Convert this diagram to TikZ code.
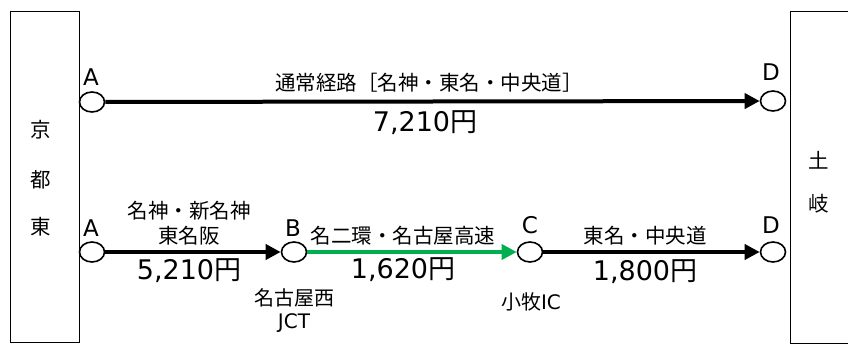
\documentclass[tikz,border=0pt]{standalone}
\usepackage{fontspec}
\setmainfont{Noto Sans CJK JP}
\newfontfamily\lat{DejaVu Sans}
\usetikzlibrary{arrows.meta,shapes.geometric}
\definecolor{rgreen}{RGB}{0,176,80}
\tikzset{
  pt/.style={draw,ellipse,line width=1.6pt,fill=white,minimum width=25pt,minimum height=20pt,inner sep=0pt},
  road/.style={line width=4pt,-{Triangle[length=15pt,width=15pt]}},
  city/.style={draw,line width=1.4pt},
  lbl/.style={font=\fontsize{23}{25}\lat,inner sep=0pt},
  txt/.style={font=\fontsize{20.5}{22}\selectfont,inner sep=0pt},
  price/.style={font=\fontsize{27}{29}\selectfont,inner sep=0pt},
  small/.style={font=\fontsize{20}{22}\selectfont,inner sep=0pt}
}
\begin{document}
\begin{tikzpicture}[x=1pt,y=-1pt]
\useasboundingbox (0,0) rectangle (848,345);
\node[city,minimum width=69pt,minimum height=331pt,anchor=north west,inner sep=0pt] (kyoto) at (10,11) {};
\node[city,minimum width=70pt,minimum height=332pt,anchor=north west,inner sep=0pt] (toki) at (790,11) {};
\node[txt] (k1) at (41,130) {京};
\node[txt] (k2) at (41,180) {都};
\node[txt] (k3) at (41,227) {東};
\node[txt] (t1) at (819,160) {土};
\node[txt] (t2) at (819,204) {岐};
% top row
\node[pt] (A1) at (92,102) {};
\node[pt] (D1) at (773,101) {};
\draw[road] (A1) -- (D1);
\node[lbl] (la1) at (91,77) {A};
\node[lbl] (ld1) at (771,72) {D};
\node[txt] (r1) at (429,83) {通常経路［名神・東名・中央道］};
\node[price] (p1) at (425,123) {{\lat 7,210}円};
% bottom row
\node[pt] (A2) at (92,252) {};
\node[pt] (B2) at (294,252) {};
\node[pt] (C2) at (530,252) {};
\node[pt] (D2) at (773,252) {};
\draw[road] (A2) -- (B2);
\draw[road,rgreen] (B2) -- (C2);
\draw[road] (C2) -- (D2);
\node[lbl] (la2) at (91,228) {A};
\node[lbl] (lb2) at (293,228) {B};
\node[lbl] (lc2) at (530,225) {C};
\node[lbl] (ld2) at (771,225) {D};
\node[txt] (r2a) at (189,211) {名神・新名神};
\node[txt] (r2b) at (189,236) {東名阪};
\node[price] (p2) at (189,271) {{\lat 5,210}円};
\node[txt] (r3) at (403,236) {名二環・名古屋高速};
\node[price] (p3) at (403,270) {{\lat 1,620}円};
\node[txt] (r4) at (645,236) {東名・中央道};
\node[price] (p4) at (645,272) {{\lat 1,800}円};
\node[small] (n1) at (294,298) {名古屋西};
\node[small] (n2) at (294,323) {{\lat JCT}};
\node[small] (n3) at (531,302) {小牧{\lat IC}};
\end{tikzpicture}
\end{document}
